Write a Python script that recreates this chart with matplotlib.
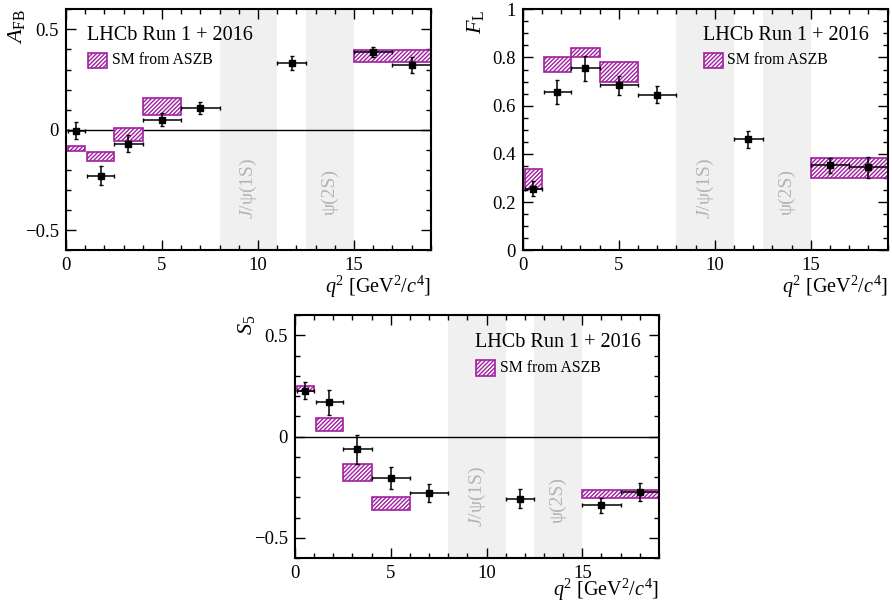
import numpy as np
import matplotlib
matplotlib.use("Agg")
import matplotlib.pyplot as plt
from matplotlib.patches import Rectangle
from matplotlib.ticker import MultipleLocator

plt.rcParams['font.family'] = ['Liberation Serif', 'DejaVu Serif']
plt.rcParams['mathtext.fontset'] = 'custom'
plt.rcParams['mathtext.rm'] = 'Liberation Serif'
plt.rcParams['mathtext.it'] = 'Liberation Serif:italic'
plt.rcParams['hatch.linewidth'] = 1.0

# q2 bins of the measurement
q2_lo = [0.1, 1.1, 2.5, 4.0, 6.0, 11.0, 15.0, 17.0]
q2_hi = [0.98, 2.5, 4.0, 6.0, 8.0, 12.5, 17.0, 19.0]

afb = [-0.004, -0.229, -0.070, 0.050, 0.110, 0.333, 0.385, 0.323]
afb_err = [0.041, 0.047, 0.043, 0.033, 0.030, 0.033, 0.025, 0.038]

fl = [0.255, 0.655, 0.756, 0.684, 0.645, 0.461, 0.352, 0.344]
fl_err = [0.031, 0.050, 0.052, 0.040, 0.035, 0.035, 0.030, 0.044]

s5 = [0.227, 0.170, -0.064, -0.204, -0.279, -0.307, -0.339, -0.273]
s5_err = [0.043, 0.062, 0.070, 0.055, 0.046, 0.046, 0.037, 0.043]

# SM predictions (ASZB), band low / high edges
sm_lo = [0.1, 1.1, 2.5, 4.0, 15.0]
sm_hi = [0.98, 2.5, 4.0, 6.0, 19.0]
afb_sm_min = [-0.104, -0.154, -0.055, 0.075, 0.337]
afb_sm_max = [-0.083, -0.113, 0.008, 0.158, 0.399]
fl_sm_min = [0.256, 0.741, 0.800, 0.699, 0.298]
fl_sm_max = [0.339, 0.800, 0.841, 0.781, 0.381]
s5_sm_min = [0.224, 0.028, -0.220, -0.361, -0.303]
s5_sm_max = [0.248, 0.091, -0.137, -0.298, -0.262]

vetoes = [(8.0, 11.0), (12.5, 15.0)]
SM_COL = '#a020a0'
HATCH = '////////'

fig = plt.figure(figsize=(8.92, 6.03), dpi=100)
ax1 = fig.add_axes([0.074, 0.585, 0.409, 0.3996])
ax2 = fig.add_axes([0.586, 0.585, 0.409, 0.3996])
ax3 = fig.add_axes([0.3307, 0.0746, 0.408, 0.403])


def draw(ax, vals, errs, smin, smax, ylab, ylim, major, minor, zero, leg_x, leg_y, ylab_x, xlab_y):
    ax.set_xlim(0, 19)
    ax.set_ylim(*ylim)
    for a, b in vetoes:
        ax.axvspan(a, b, color='#f0f0f0', lw=0, zorder=0)
    t = ax.get_xaxis_transform()
    ax.text(9.5, 0.255, '$J$/ψ(1S)', rotation=90, ha='center', va='center',
            color='#b4b4b4', fontsize=14, transform=t)
    ax.text(13.75, 0.24, 'ψ(2S)', rotation=90, ha='center', va='center',
            color='#b4b4b4', fontsize=14, transform=t)
    if zero:
        ax.axhline(0, color='black', lw=1.0, zorder=1)
    for lo, hi, y0, y1 in zip(sm_lo, sm_hi, smin, smax):
        ax.add_patch(Rectangle((lo, y0), hi - lo, y1 - y0, facecolor='white',
                               edgecolor=SM_COL, hatch=HATCH, lw=1.2, zorder=2))
    x = [(a + b) / 2 for a, b in zip(q2_lo, q2_hi)]
    xe = [(b - a) / 2 for a, b in zip(q2_lo, q2_hi)]
    ax.errorbar(x, vals, yerr=errs, xerr=xe, fmt='s', color='black', ms=3.8,
                elinewidth=1.1, capsize=1.5, capthick=1.0, zorder=3)

    ax.xaxis.set_major_locator(MultipleLocator(5))
    ax.xaxis.set_minor_locator(MultipleLocator(1))
    ax.yaxis.set_major_locator(MultipleLocator(major))
    ax.yaxis.set_minor_locator(MultipleLocator(minor))
    ax.tick_params(which='both', direction='in', top=True, right=True, labelsize=13.5, pad=5)
    ax.tick_params(which='major', length=7, width=1.0)
    ax.tick_params(which='minor', length=3.5, width=1.0)
    for s in ax.spines.values():
        s.set_linewidth(1.5)
    ticks = ax.get_yticks()
    ax.set_yticks(ticks)
    ax.set_yticklabels(['%g' % v if v >= 0 else '\u2212%g' % -v for v in ticks])
    ax.set_ylim(*ylim)

    ax.set_xlabel('$q^2$ [GeV$^2$/$c^4$]', fontsize=14.5, loc='right', va='bottom')
    ax.xaxis.set_label_coords(1.0, xlab_y)
    ax.set_ylabel(ylab, fontsize=16, loc='top')
    ax.yaxis.set_label_coords(ylab_x, 1.0)

    ax.text(leg_x, leg_y, 'LHCb Run 1 + 2016', transform=ax.transAxes,
            fontsize=14.5, ha='left', va='center')
    ax.add_patch(Rectangle((leg_x + 0.003, leg_y - 0.135), 0.052, 0.062, transform=ax.transAxes,
                           facecolor='white', edgecolor=SM_COL, hatch=HATCH, lw=1.2,
                           clip_on=False, zorder=5))
    ax.text(leg_x + 0.067, leg_y - 0.104, 'SM from ASZB', transform=ax.transAxes,
            fontsize=11.3, ha='left', va='center')


draw(ax1, afb, afb_err, afb_sm_min, afb_sm_max, r'$A_{\rm FB}$', (-0.6, 0.6), 0.5, 0.1, True,
     0.058, 0.893, -0.107, -0.205)
draw(ax2, fl, fl_err, fl_sm_min, fl_sm_max, r'$F_{\rm L}$', (0.0, 1.0), 0.2, 0.05, False,
     0.493, 0.893, -0.10, -0.205)
draw(ax3, s5, s5_err, s5_sm_min, s5_sm_max, r'$S_5$', (-0.6, 0.6), 0.5, 0.1, True,
     0.495, 0.886, -0.104, -0.185)

fig.savefig('out.png', dpi=100)
